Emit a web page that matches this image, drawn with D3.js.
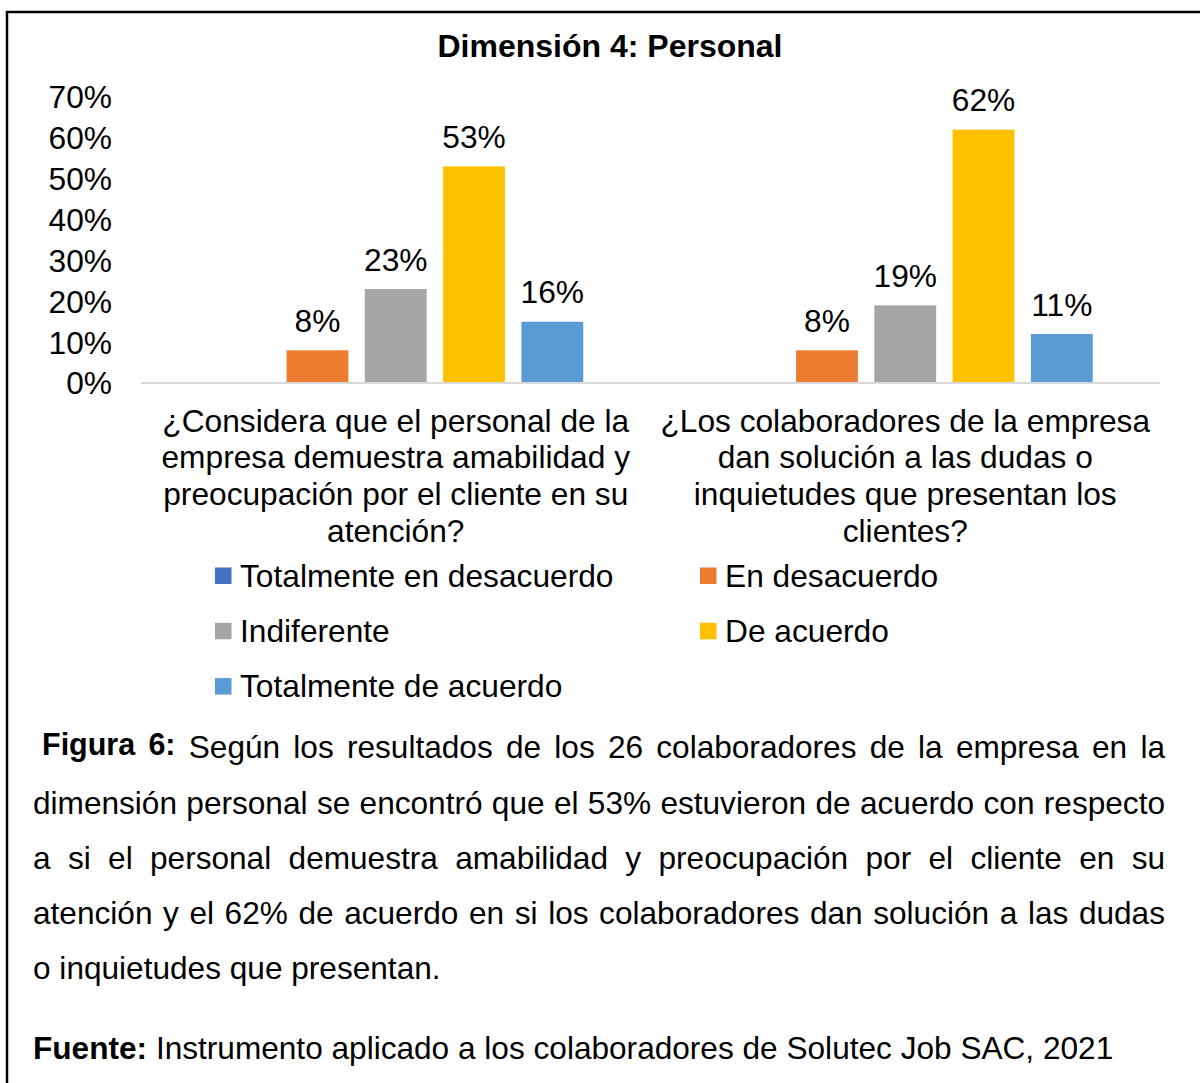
<!DOCTYPE html>
<html>
<head>
<meta charset="utf-8">
<script src="https://cdn.jsdelivr.net/npm/d3@7"></script>
<style>
  body { margin: 0; background: #fff; }
  text { font-family: "Liberation Sans", Arial, sans-serif; fill: #000; }
</style>
</head>
<body>
<svg id="chart" width="1200" height="1083"></svg>
<script>
// DATA
var categories = ["q1", "q2"];
var categoryLines = [
  ["¿Considera que el personal de la", "empresa demuestra amabilidad y", "preocupación por el cliente en su", "atención?"],
  ["¿Los colaboradores de la empresa", "dan solución a las dudas o", "inquietudes que presentan los", "clientes?"]
];
var series = ["Totalmente en desacuerdo", "En desacuerdo", "Indiferente", "De acuerdo", "Totalmente de acuerdo"];
var colors = ["#4472C4", "#ED7D31", "#A5A5A5", "#FFC000", "#5B9BD5"];
// bar heights as drawn
var valuesQ1 = [0, 0.08, 0.23, 0.53, 0.15];
var valuesQ2 = [0, 0.08, 0.19, 0.62, 0.12];
// data labels as printed on the chart
var labelsQ1 = ["", "8%", "23%", "53%", "16%"];
var labelsQ2 = ["", "8%", "19%", "62%", "11%"];
var yTicks = [0, 0.1, 0.2, 0.3, 0.4, 0.5, 0.6, 0.7];

var title = "Dimensión 4: Personal";
var captionLines = [
  "Según los resultados de los 26 colaboradores de la empresa en la",
  "dimensión personal se encontró que el 53% estuvieron de acuerdo con respecto",
  "a si el personal demuestra amabilidad y preocupación por el cliente en su",
  "atención y el 62% de acuerdo en si los colaboradores dan solución a las dudas",
  "o inquietudes que presentan."
];
var sourceText = "Instrumento aplicado a los colaboradores de Solutec Job SAC, 2021";

// SETUP
var svg = d3.select("#chart");
var fs = 31.7;

// frame
svg.append("path")
  .attr("d", "M7,1083V12H1200")
  .attr("fill", "none")
  .attr("stroke", "#000")
  .attr("stroke-width", 2.5);

svg.append("text")
  .attr("x", 610).attr("y", 56.5)
  .attr("text-anchor", "middle")
  .style("font-size", "32px").style("font-weight", "bold")
  .text(title);

var y = d3.scaleLinear().domain([0, 0.7]).range([383, 97]);
var x0 = d3.scaleBand().domain(categories).range([141, 1160]).paddingInner(0.264).paddingOuter(0.132);
var x1 = d3.scaleBand().domain(series).range([0, x0.bandwidth()]).paddingInner(0.21);

// y labels (no axis line, no grid)
svg.append("g").selectAll("text").data(yTicks).enter().append("text")
  .attr("x", 112)
  .attr("y", function(d) { return y(d); })
  .attr("dy", "0.36em")
  .attr("text-anchor", "end")
  .style("font-size", fs + "px")
  .text(d3.format(".0%"));

var data = [
  { cat: "q1", values: valuesQ1, labels: labelsQ1 },
  { cat: "q2", values: valuesQ2, labels: labelsQ2 }
];

var groups = svg.append("g").selectAll("g").data(data).enter().append("g")
  .attr("transform", function(d) { return "translate(" + x0(d.cat) + ",0)"; });

function rows(d) {
  return series.map(function(s, i) { return { s: s, i: i, v: d.values[i], l: d.labels[i] }; });
}

groups.selectAll("rect").data(rows).enter().append("rect")
  .attr("x", function(d) { return x1(d.s); })
  .attr("y", function(d) { return y(d.v); })
  .attr("width", x1.bandwidth())
  .attr("height", function(d) { return y(0) - y(d.v); })
  .attr("fill", function(d) { return colors[d.i]; });

groups.selectAll("text.lbl").data(rows).enter().append("text")
  .attr("class", "lbl")
  .attr("x", function(d) { return x1(d.s) + x1.bandwidth() / 2; })
  .attr("y", function(d) { return y(d.v) - 18.4; })
  .attr("text-anchor", "middle")
  .style("font-size", fs + "px")
  .text(function(d) { return d.l; });

// category axis line
svg.append("line")
  .attr("x1", 141).attr("x2", 1160)
  .attr("y1", y(0)).attr("y2", y(0))
  .attr("stroke", "#D9D9D9").attr("stroke-width", 2);

// category labels
categories.forEach(function(c, ci) {
  var cx = x0(c) + x0.bandwidth() / 2;
  var t = svg.append("text")
    .attr("text-anchor", "middle")
    .style("font-size", fs + "px");
  categoryLines[ci].forEach(function(line, li) {
    t.append("tspan").attr("x", cx).attr("y", 431.7 + li * 36.7).text(line);
  });
});

// legend
var legendCols = [215, 700];
var legend = svg.append("g").selectAll("g").data(series).enter().append("g")
  .attr("transform", function(d, i) {
    return "translate(" + legendCols[i % 2] + "," + (567.5 + Math.floor(i / 2) * 55.3) + ")";
  });
legend.append("rect")
  .attr("width", 16.5).attr("height", 16.5)
  .attr("fill", function(d, i) { return colors[i]; });
legend.append("text")
  .attr("x", 25).attr("y", 19.3)
  .style("font-size", fs + "px")
  .text(function(d) { return d; });

// CAPTION (justified paragraph)
var cfs = 31.6;

function measure(word, size, bold) {
  var t = svg.append("text").style("font-size", size + "px")
    .style("font-weight", bold ? "bold" : "normal").text(word);
  var w = t.node().getComputedTextLength();
  t.remove();
  return w;
}

function layoutLine(parts, x0p, x1p, justify) {
  var words = [];
  parts.forEach(function(p) {
    p.text.split(" ").forEach(function(w) {
      words.push({ text: w, size: p.size, bold: p.bold, y: p.y, w: measure(w, p.size, p.bold) });
    });
  });
  var total = d3.sum(words, function(d) { return d.w; });
  var gap = justify ? (x1p - x0p - total) / (words.length - 1) : cfs * 0.278;
  var x = x0p;
  words.forEach(function(d) {
    svg.append("text")
      .attr("x", x).attr("y", d.y)
      .style("font-size", d.size + "px")
      .style("font-weight", d.bold ? "bold" : "normal")
      .text(d.text);
    x += d.w + gap;
  });
}

var capY = [758, 814, 869, 924, 979];
layoutLine([
  { text: "Figura 6:", size: 30.5, bold: true, y: 755 },
  { text: captionLines[0], size: cfs, bold: false, y: capY[0] }
], 42, 1165, true);
for (var i = 1; i < 4; i++) {
  layoutLine([{ text: captionLines[i], size: cfs, bold: false, y: capY[i] }], 33, 1165, true);
}
layoutLine([{ text: captionLines[4], size: cfs, bold: false, y: capY[4] }], 33, 1165, false);

layoutLine([
  { text: "Fuente:", size: 31.6, bold: true, y: 1059 },
  { text: sourceText, size: cfs, bold: false, y: 1059 }
], 33, 1165, false);
</script>
</body>
</html>
